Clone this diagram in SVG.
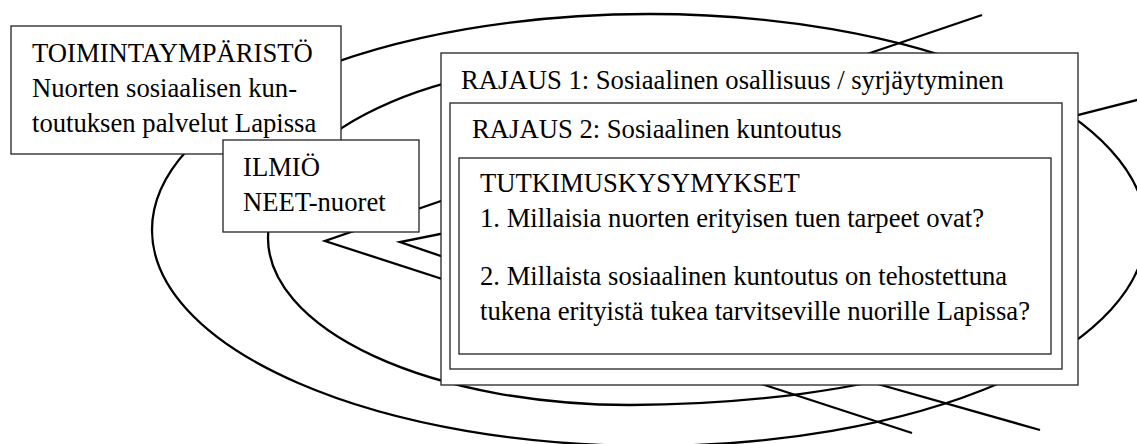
<svg xmlns="http://www.w3.org/2000/svg" width="1137" height="444" viewBox="0 0 1137 444">
<style>
.bg{fill:#fff}
.c{fill:none;stroke:#000;stroke-width:2.3}
.box{fill:#fff;stroke:#222;stroke-width:1.3}
.t{font-family:"Liberation Serif","Times New Roman",serif;font-size:26.67px;fill:#000}
</style>
<rect class="bg" x="0" y="0" width="1137" height="444"/>
<g id="connectors">
<ellipse class="c" cx="649" cy="230" rx="497" ry="216"/>
<path class="c" d="M600,63 A332,175 0 0 0 268,238 A362,167 0 0 0 630,405 A480,167 0 0 0 950,362"/>
<line class="c" x1="820" y1="70" x2="982" y2="15"/>
<line class="c" x1="1060" y1="119.6" x2="1150" y2="96.7"/>
<line class="c" x1="740" y1="377" x2="912" y2="433"/>
<line class="c" x1="860" y1="379" x2="1040" y2="430"/>
<polyline class="c" points="470,191 325,241 470,288"/>
<polyline class="c" points="470,228 400,242 470,266"/>
</g>
<g id="toimintaymparisto">
<rect class="box" x="11" y="26" width="330" height="128"/>
<text class="t" x="32" y="62">TOIMINTAYMPÄRISTÖ</text>
<text class="t" x="32" y="97">Nuorten sosiaalisen kun-</text>
<text class="t" x="32" y="132">toutuksen palvelut Lapissa</text>
</g>
<g id="ilmio">
<rect class="box" x="223" y="140" width="196" height="92"/>
<text class="t" x="243" y="176">ILMIÖ</text>
<text class="t" x="243" y="211">NEET-nuoret</text>
</g>
<g id="rajaus1">
<rect class="box" x="441" y="53" width="637" height="332"/>
<text class="t" x="461" y="89">RAJAUS 1: Sosiaalinen osallisuus / syrjäytyminen</text>
</g>
<g id="rajaus2">
<rect class="box" x="450" y="103" width="612" height="266"/>
<text class="t" x="472" y="138">RAJAUS 2: Sosiaalinen kuntoutus</text>
</g>
<g id="tutkimuskysymykset">
<rect class="box" x="459" y="158" width="592" height="196"/>
<text class="t" x="480" y="192">TUTKIMUSKYSYMYKSET</text>
<text class="t" x="480" y="227">1. Millaisia nuorten erityisen tuen tarpeet ovat?</text>
<text class="t" x="480" y="285">2. Millaista sosiaalinen kuntoutus on tehostettuna</text>
<text class="t" x="480" y="320">tukena erityistä tukea tarvitseville nuorille Lapissa?</text>
</g>
</svg>
